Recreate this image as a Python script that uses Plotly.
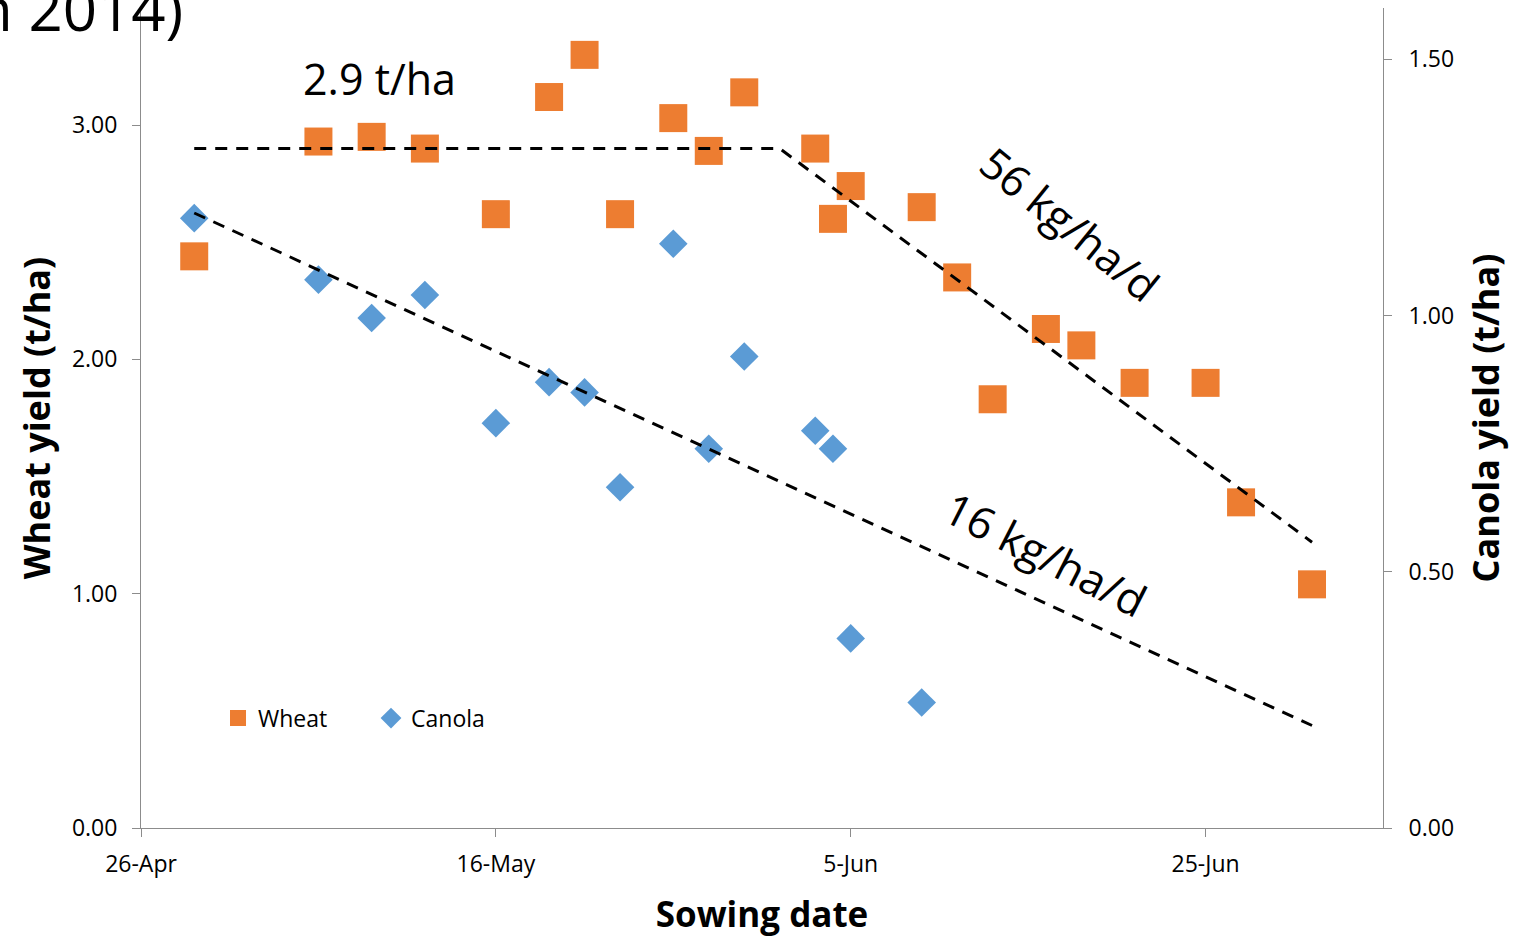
import plotly.graph_objects as go

# ---- data ----
wheat_dates = ["2014-04-29", "2014-05-06", "2014-05-09", "2014-05-12", "2014-05-16",
               "2014-05-19", "2014-05-21", "2014-05-23", "2014-05-26", "2014-05-28",
               "2014-05-30", "2014-06-03", "2014-06-04", "2014-06-05", "2014-06-09",
               "2014-06-11", "2014-06-13", "2014-06-16", "2014-06-18", "2014-06-21",
               "2014-06-25", "2014-06-27", "2014-07-01"]
wheat_yield = [2.44, 2.93, 2.95, 2.90, 2.62, 3.12, 3.30, 2.62, 3.03, 2.89,
               3.14, 2.90, 2.60, 2.74, 2.65, 2.35, 1.83, 2.13, 2.06, 1.90,
               1.90, 1.39, 1.04]

canola_dates = ["2014-04-29", "2014-05-06", "2014-05-09", "2014-05-12", "2014-05-16",
                "2014-05-19", "2014-05-21", "2014-05-23", "2014-05-26", "2014-05-28",
                "2014-05-30", "2014-06-03", "2014-06-04", "2014-06-05", "2014-06-09"]
canola_yield = [1.19, 1.07, 0.995, 1.04, 0.79, 0.87, 0.85, 0.665, 1.14, 0.74,
                0.92, 0.775, 0.74, 0.37, 0.245]

wheat_fit_dates = ["2014-04-29", "2014-06-01", "2014-07-01"]
wheat_fit_vals = [2.9, 2.9, 1.22]
canola_fit_dates = ["2014-04-29", "2014-07-01"]
canola_fit_vals = [1.20, 0.20]

x_tickvals = ["2014-04-26", "2014-05-16", "2014-06-05", "2014-06-25"]
x_ticktext = ["26-Apr", "16-May", "5-Jun", "25-Jun"]
y1_ticks = [0, 1, 2, 3]
y2_ticks = [0, 0.5, 1.0, 1.5]

WHEAT = "#ED7D31"
CANOLA = "#5B9BD5"
AXIS = "#8C8C8C"
FONT = "Open Sans"

fig = go.Figure()
fig.add_trace(go.Scatter(x=wheat_dates, y=wheat_yield, mode="markers", name="Wheat",
                         marker=dict(symbol="square", size=28, color=WHEAT), yaxis="y"))
fig.add_trace(go.Scatter(x=canola_dates, y=canola_yield, mode="markers", name="Canola",
                         marker=dict(symbol="diamond", size=22, color=CANOLA), yaxis="y2"))
fig.add_trace(go.Scatter(x=wheat_fit_dates, y=wheat_fit_vals, mode="lines", showlegend=False,
                         line=dict(color="black", width=3, dash="12px,9px"), yaxis="y"))
fig.add_trace(go.Scatter(x=canola_fit_dates, y=canola_fit_vals, mode="lines", showlegend=False,
                         line=dict(color="black", width=3, dash="12px,9px"), yaxis="y2"))

fig.update_layout(
    width=1516, height=937,
    margin=dict(l=141, r=133, t=8, b=109),
    paper_bgcolor="white", plot_bgcolor="white",
    font=dict(family=FONT, color="black", size=23),
    showlegend=True,
    legend=dict(orientation="h", x=0.062, y=0.134, xanchor="left", yanchor="middle",
                font=dict(size=23, family=FONT), entrywidth=108, entrywidthmode="pixels",
                itemsizing="trace", itemwidth=30, bgcolor="rgba(0,0,0,0)"),
    xaxis=dict(type="date", range=["2014-04-26", "2014-07-05"],
               tickvals=x_tickvals, ticktext=x_ticktext,
               showgrid=False, zeroline=False, showline=True, linecolor=AXIS, linewidth=1,
               ticks="outside", ticklen=8, tickcolor=AXIS, ticklabelstandoff=7,
               tickfont=dict(size=23, family=FONT),
               title=dict(text="<b>Sowing date</b>", font=dict(size=35, family=FONT), standoff=24)),
    yaxis=dict(range=[0, 3.5], tickvals=y1_ticks, tickformat=".2f",
               showgrid=False, zeroline=False, showline=True, linecolor=AXIS, linewidth=1,
               ticks="outside", ticklen=8, tickcolor=AXIS, ticklabelstandoff=10,
               tickfont=dict(size=23, family=FONT),
               title=dict(text="<b>Wheat yield (t/ha)</b>", font=dict(size=36, family=FONT), standoff=10)),
    yaxis2=dict(range=[0, 1.6], tickvals=y2_ticks, tickformat=".2f", overlaying="y", side="right",
                showgrid=False, zeroline=False, showline=True, linecolor=AXIS, linewidth=1,
                ticks="outside", ticklen=8, tickcolor=AXIS, ticklabelstandoff=12,
                tickfont=dict(size=23, family=FONT),
                title=dict(text="<b>Canola yield (t/ha)</b>", font=dict(size=36, family=FONT), standoff=20)),
    annotations=[
        dict(text="2.9 t/ha", x="2014-05-09 10:00", y=3.20, xref="x", yref="y", showarrow=False,
             font=dict(size=43, family=FONT)),
        dict(text="56 kg/ha/d", x="2014-06-17 08:00", y=2.58, xref="x", yref="y", showarrow=False,
             textangle=39, font=dict(size=43, family=FONT)),
        dict(text="16 kg/ha/d", x="2014-06-16 00:00", y=1.17, xref="x", yref="y", showarrow=False,
             textangle=27, font=dict(size=44, family=FONT)),
        dict(text="n 2014)", x=0.0354, y=1.0, xref="paper", yref="paper", showarrow=False,
             xanchor="right", yanchor="middle", font=dict(size=60, family=FONT)),
    ],
)

fig.write_html("out.html")
